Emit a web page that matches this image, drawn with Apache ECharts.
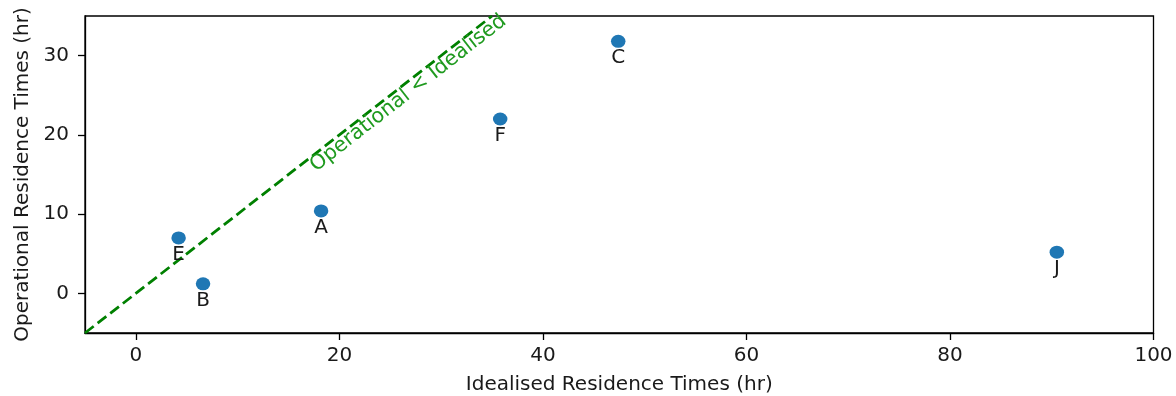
<!DOCTYPE html>
<html>
<head>
<meta charset="utf-8">
<script src="https://cdn.jsdelivr.net/npm/echarts@6/dist/echarts.min.js"></script>
<style>html,body{margin:0;padding:0;background:#fff}#c{width:1176px;height:396px}</style>
</head>
<body>
<div id="c"></div>
<script>
const pointNames = ['E', 'B', 'A', 'F', 'C', 'J'];
const idealised = [4.2, 6.6, 18.2, 35.8, 47.4, 90.5];
const operational = [7.0, 1.2, 10.4, 22.0, 31.8, 5.2];
const refLineX = [-5, 35];
const refLineY = [-5, 35];
const xTicks = [0, 20, 40, 60, 80, 100];
const yTicks = [0, 10, 20, 30];
const refText = 'Operational < Idealised';
const refTextAt = 26.2;

const FONT = 'DejaVu Sans';
const FS = 20;
const chart = echarts.init(document.getElementById('c'));
const pts = idealised.map((x, i) => ({ value: [x, operational[i]], name: pointNames[i] }));

chart.setOption({
  animation: false,
  grid: { left: 85, right: 22.5, top: 16, bottom: 63, show: true, borderColor: '#000', borderWidth: 1.3, backgroundColor: 'transparent', outerBoundsMode: 'none', containLabel: false },
  xAxis: {
    type: 'value', min: -5, max: 100,
    name: 'Idealised Residence Times (hr)', nameLocation: 'middle', nameGap: 42,
    nameTextStyle: { fontFamily: FONT, fontSize: FS, color: '#1a1a1a' },
    axisLine: { onZero: false, lineStyle: { color: '#000', width: 1.3 } },
    axisTick: { show: true, length: 7, customValues: xTicks, lineStyle: { color: '#000', width: 1.3 } },
    axisLabel: { customValues: xTicks, margin: 13, fontFamily: FONT, fontSize: FS, color: '#1a1a1a' },
    splitLine: { show: false }
  },
  yAxis: {
    type: 'value', min: -5, max: 35,
    name: 'Operational Residence Times (hr)', nameLocation: 'middle', nameGap: 49, nameRotate: 90,
    nameTextStyle: { fontFamily: FONT, fontSize: FS, color: '#1a1a1a' },
    axisLine: { onZero: false, lineStyle: { color: '#000', width: 1.3 } },
    axisTick: { show: true, length: 7, customValues: yTicks, lineStyle: { color: '#000', width: 1.3 } },
    axisLabel: { customValues: yTicks, margin: 16, fontFamily: FONT, fontSize: FS, color: '#1a1a1a' },
    splitLine: { show: false }
  },
  series: [
    {
      type: 'line', data: refLineX.map((x, i) => [x, refLineY[i]]),
      symbol: 'none', clip: true, silent: true,
      lineStyle: { color: '#008000', width: 2.8, type: [11, 5] }, z: 2
    },
    {
      type: 'scatter', data: pts, symbol: 'circle', symbolSize: [14.5, 13],
      itemStyle: { color: '#1f77b4', opacity: 1 }, z: 3,
      label: { show: true, position: 'bottom', distance: 0, formatter: p => p.name, fontFamily: FONT, fontSize: FS, color: '#1a1a1a' }
    }
  ]
});

const p0 = chart.convertToPixel({ gridIndex: 0 }, [refLineX[0], refLineY[0]]);
const p1 = chart.convertToPixel({ gridIndex: 0 }, [refLineX[1], refLineY[1]]);
const theta = Math.atan2(p0[1] - p1[1], p1[0] - p0[0]);
const a = chart.convertToPixel({ gridIndex: 0 }, [refTextAt, refTextAt]);
const off = 9.5;
chart.setOption({
  graphic: [{
    type: 'text', x: a[0] + off * Math.sin(theta), y: a[1] + off * Math.cos(theta), rotation: theta, z: 10,
    style: { text: refText, fill: '#1f9a1f', font: (FS + 0.5) + 'px "' + FONT + '"', align: 'center', verticalAlign: 'middle' }
  }]
});
</script>
</body>
</html>
